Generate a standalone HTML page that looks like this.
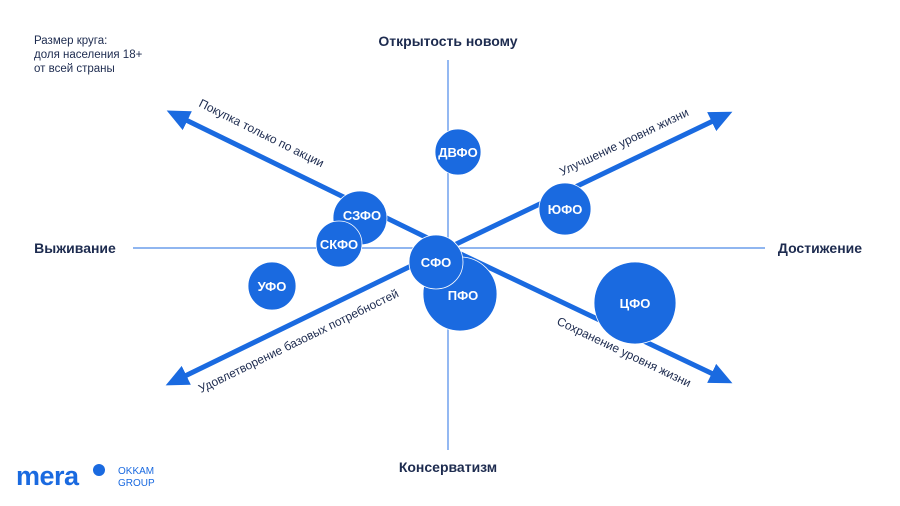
<!DOCTYPE html>
<html><head><meta charset="utf-8"><style>
html,body{margin:0;padding:0;background:#fff;}
svg{display:block;font-family:"Liberation Sans",sans-serif;}
</style></head><body>
<svg width="900" height="506" viewBox="0 0 900 506" xmlns="http://www.w3.org/2000/svg">
<defs>
<marker id="ah" markerWidth="5" markerHeight="5" refX="0.3" refY="2.1" orient="auto" markerUnits="strokeWidth">
<path d="M0,0 L4.6,2.1 L0,4.2 Z" fill="#1a6ae0"/>
</marker>
</defs>
<g fill="#1d2b4f" font-size="11.5">
<text x="34" y="44">Размер круга:</text>
<text x="34" y="58">доля населения 18+</text>
<text x="34" y="72">от всей страны</text>
</g>
<g fill="#1d2b4f" font-size="14" font-weight="bold" text-anchor="middle">
<text x="448" y="46">Открытость новому</text>
<text x="448" y="472">Консерватизм</text>
<text x="75" y="253">Выживание</text>
<text x="820" y="253">Достижение</text>
</g>
<g stroke="#4d8ae8" stroke-width="1.2">
<line x1="448" y1="60" x2="448" y2="450"/>
<line x1="133" y1="248" x2="765" y2="248"/>
</g>
<g stroke="#1a6ae0" stroke-width="5" marker-end="url(#ah)">
<line x1="448" y1="248" x2="186" y2="120"/>
<line x1="448" y1="248" x2="713" y2="121"/>
<line x1="448" y1="248" x2="185" y2="376"/>
<line x1="448" y1="248" x2="713" y2="374"/>
</g>
<g fill="#1d2b4f" font-size="12">
<text transform="translate(198,106) rotate(26.5)">Покупка только по акции</text>
<text transform="translate(562,176) rotate(-25.5)">Улучшение уровня жизни</text>
<text transform="translate(201,393) rotate(-26)">Удовлетворение базовых потребностей</text>
<text transform="translate(556,324) rotate(25.5)">Сохранение уровня жизни</text>
</g>
<g fill="#1a6ae0" stroke="#fff" stroke-width="0.8">
<circle cx="458" cy="152" r="23"/>
<circle cx="360" cy="218" r="27"/>
<circle cx="339" cy="244" r="23"/>
<circle cx="272" cy="286" r="24"/>
<circle cx="460" cy="294" r="37"/>
<circle cx="436" cy="262" r="27"/>
<circle cx="565" cy="209" r="26"/>
<circle cx="635" cy="303" r="41"/>
</g>
<g fill="#fff" font-size="13" font-weight="bold" text-anchor="middle">
<text x="458" y="157">ДВФО</text>
<text x="362" y="220">СЗФО</text>
<text x="339" y="249">СКФО</text>
<text x="272" y="291">УФО</text>
<text x="463" y="300">ПФО</text>
<text x="436" y="267">СФО</text>
<text x="565" y="214">ЮФО</text>
<text x="635" y="308">ЦФО</text>
</g>
<text x="16" y="485" fill="#1a6ae0" font-size="27" font-weight="bold" letter-spacing="-0.5">mera</text>
<circle cx="99" cy="470" r="6" fill="#1a6ae0"/>
<g fill="#1a6ae0" font-size="10">
<text x="118" y="474">OKKAM</text>
<text x="118" y="486">GROUP</text>
</g>
</svg>
</body></html>
